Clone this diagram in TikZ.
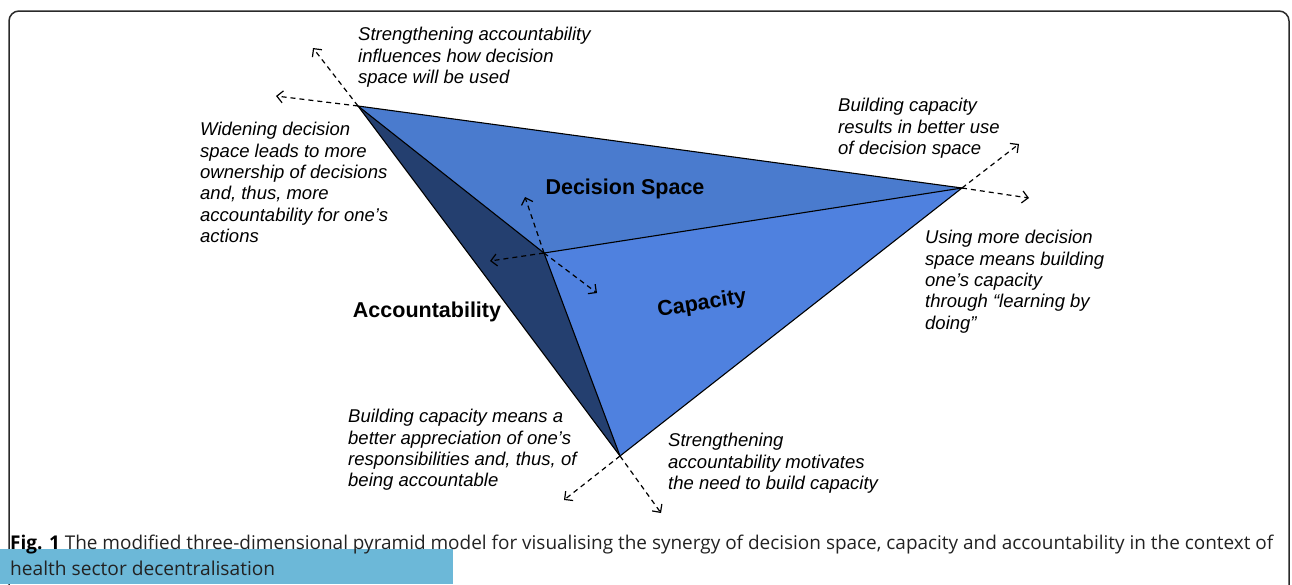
\documentclass[tikz,border=0pt]{standalone}
\usepackage{fontspec}
\setmainfont{Liberation Sans}
\newfontfamily\capfont{Open Sans}
\usetikzlibrary{arrows.meta}
\definecolor{topface}{HTML}{4A7BCE}
\definecolor{capface}{HTML}{4F81DF}
\definecolor{accface}{HTML}{243F6F}
\definecolor{capbox}{HTML}{6CB8D8}
\definecolor{frame}{HTML}{2A2A2A}
\definecolor{captext}{HTML}{222222}
\tikzset{
  face/.style={draw=black, line width=1.1pt, line join=miter},
  influence/.style={draw=black, line width=1.2pt, dash pattern=on 5pt off 4pt,
    -{Straight Barb[length=6pt,width=12pt,line width=1.2pt]}},
  note/.style={font=\fontsize{18.5}{21.4}\selectfont\itshape, align=left, anchor=north west, inner sep=0pt},
  dim/.style={font=\fontsize{21.5}{24}\selectfont\bfseries, inner sep=0pt},
  caption/.style={font=\capfont, text=captext, anchor=base west, inner sep=0pt}
}
\begin{document}
\begin{tikzpicture}[x=1pt,y=-1pt]
\useasboundingbox (0,0) rectangle (1292,584);
\clip (0,0) rectangle (1292,584);
% frame
\draw[frame, line width=1.5pt, rounded corners=10pt] (9,11) rectangle (1289,640);
% vertices
\coordinate (A) at (358,106);
\coordinate (B) at (962,188);
\coordinate (C) at (544,253);
\coordinate (D) at (620,456);
% faces
\fill[topface] (A) -- (B) -- (C) -- cycle;
\fill[capface] (C) -- (B) -- (D) -- cycle;
\fill[accface] (A) -- (C) -- (D) -- cycle;
\draw[face] (A) -- (B) -- (D) -- cycle;
\draw[face] (A) -- (C) -- (B);
\draw[face] (C) -- (D);
% arrow ends
\coordinate (A1) at (313,48);
\coordinate (A2) at (276,96);
\coordinate (B1) at (1019,144);
\coordinate (B2) at (1029,198);
\coordinate (C1) at (525,197);
\coordinate (C2) at (490,261);
\coordinate (C3) at (597,293);
\coordinate (D1) at (564,500);
\coordinate (D2) at (661,513);
\foreach \s/\e in {A/A1,A/A2,B/B1,B/B2,C/C1,C/C2,C/C3,D/D1,D/D2}
  \draw[influence] (\s) -- (\e);
% labels
\node[dim] (ds) at (625,189) {Decision Space};
\node[dim] (ac) at (427,312) {Accountability};
\node[dim, rotate=9] (cp) at (702,304) {Capacity};
% notes
\node[note] (n1) at (358,27) {Strengthening accountability\\influences how decision\\space will be used};
\node[note] (n2) at (200,122) {Widening decision\\space leads to more\\ownership of decisions\\and, thus, more\\accountability for one’s\\actions};
\node[note] (n3) at (838,98) {Building capacity\\results in better use\\of decision space};
\node[note] (n4) at (925,230) {Using more decision\\space means building\\one’s capacity\\through “learning by\\doing”};
\node[note] (n5) at (348,409) {Building capacity means a\\better appreciation of one’s\\responsibilities and, thus, of\\being accountable};
\node[note] (n6) at (668,433) {Strengthening\\accountability motivates\\the need to build capacity};
% caption
\fill[capbox] (0,549) rectangle (453,584);
\node[caption] (cap1) at (10,549) {\resizebox{1263pt}{14.5pt}{\textcolor{black}{\bfseries Fig. 1} The modified three-dimensional pyramid model for visualising the synergy of decision space, capacity and accountability in the context of}};
\node[caption] (cap2) at (10,575) {\resizebox{265pt}{14.5pt}{health sector decentralisation}};
\end{tikzpicture}
\end{document}
